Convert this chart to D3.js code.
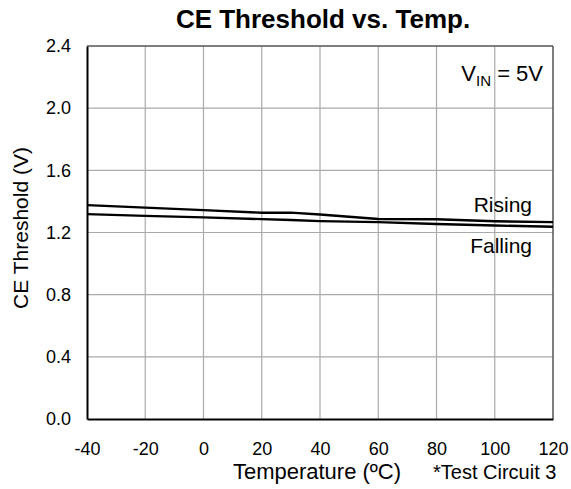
<!DOCTYPE html>
<html>
<head>
<meta charset="utf-8">
<script src="https://cdn.jsdelivr.net/npm/d3@7"></script>
<style>
  body { margin: 0; background: #fff; }
  text { font-family: "Liberation Sans", Arial, sans-serif; }
</style>
</head>
<body>
<div></div>
<script>
var width = 571;
var height = 489;

// data
var temps = [-40, -20, 0, 20, 30, 40, 60, 80, 100, 120];
var rising = [1.376, 1.360, 1.344, 1.327, 1.328, 1.316, 1.287, 1.285, 1.272, 1.267];
var falling = [1.318, 1.307, 1.297, 1.286, 1.280, 1.273, 1.267, 1.255, 1.245, 1.237];
var xTicks = [-40, -20, 0, 20, 40, 60, 80, 100, 120];
var yTicks = [0, 0.4, 0.8, 1.2, 1.6, 2.0, 2.4];

var pLeft = 87, pRight = 553, pTop = 46, pBottom = 419;

var svg = d3.select("div")
	.append("svg")
	.attr("width", width)
	.attr("height", height);

var x = d3.scaleLinear().domain([-40, 120]).range([pLeft, pRight]);
var y = d3.scaleLinear().domain([0, 2.4]).range([pBottom, pTop]);

// grid
svg.append("g")
	.selectAll("line")
	.data(xTicks.slice(1, -1))
	.enter()
	.append("line")
	.attr("x1", d => x(d)).attr("x2", d => x(d))
	.attr("y1", pTop).attr("y2", pBottom)
	.attr("stroke", "#aaa")
	.attr("stroke-width", 1.2);

svg.append("g")
	.selectAll("line")
	.data(yTicks.slice(1, -1))
	.enter()
	.append("line")
	.attr("x1", pLeft).attr("x2", pRight)
	.attr("y1", d => y(d)).attr("y2", d => y(d))
	.attr("stroke", "#aaa")
	.attr("stroke-width", 1.2);

// frame
svg.append("line").attr("x1", pLeft).attr("x2", pRight).attr("y1", pTop).attr("y2", pTop)
	.attr("stroke", "#555").attr("stroke-width", 1.5);
svg.append("line").attr("x1", pRight).attr("x2", pRight).attr("y1", pTop).attr("y2", pBottom)
	.attr("stroke", "#555").attr("stroke-width", 1.5);

// axes
var xAxis = svg.append("g")
	.attr("transform", "translate(0," + pBottom + ")")
	.call(d3.axisBottom(x).tickValues(xTicks).tickSize(0).tickPadding(23).tickFormat(d => String(d)));
var yAxis = svg.append("g")
	.attr("transform", "translate(" + pLeft + ",0)")
	.call(d3.axisLeft(y).tickValues(yTicks).tickSize(0).tickPadding(16).tickFormat(d3.format(".1f")));

[xAxis, yAxis].forEach(a => {
	a.select(".domain").attr("stroke", "#000").attr("stroke-width", 2);
	a.selectAll("text").attr("font-size", 18).attr("fill", "#000")
		.style("font-family", "'Liberation Sans', Arial, sans-serif");
});

// series
var line = d3.line()
	.x((d, i) => x(temps[i]))
	.y(d => y(d));

[rising, falling].forEach(s => {
	svg.append("path")
		.datum(s)
		.attr("d", line)
		.attr("fill", "none")
		.attr("stroke", "#000")
		.attr("stroke-width", 2.4);
});

// labels
svg.append("text")
	.attr("x", 323).attr("y", 28)
	.attr("text-anchor", "middle")
	.attr("font-size", 26)
	.attr("font-weight", "bold")
	.text("CE Threshold vs. Temp.");

svg.append("text")
	.attr("transform", "translate(28,228) rotate(-90)")
	.attr("text-anchor", "middle")
	.attr("font-size", 21)
	.text("CE Threshold (V)");

svg.append("text")
	.attr("x", 317).attr("y", 479)
	.attr("text-anchor", "middle")
	.attr("font-size", 22)
	.text("Temperature (ºC)");

svg.append("text")
	.attr("x", 433).attr("y", 479)
	.attr("font-size", 20)
	.text("*Test Circuit 3");

var vin = svg.append("text")
	.attr("x", 543).attr("y", 81)
	.attr("text-anchor", "end")
	.attr("font-size", 22);
vin.append("tspan").text("V");
vin.append("tspan").attr("font-size", 15).attr("dy", 5).text("IN");
vin.append("tspan").attr("dy", -5).text(" = 5V");

svg.append("text")
	.attr("x", 532).attr("y", 212)
	.attr("text-anchor", "end")
	.attr("font-size", 21)
	.text("Rising");

svg.append("text")
	.attr("x", 532).attr("y", 253)
	.attr("text-anchor", "end")
	.attr("font-size", 21)
	.text("Falling");
</script>
</body>
</html>
